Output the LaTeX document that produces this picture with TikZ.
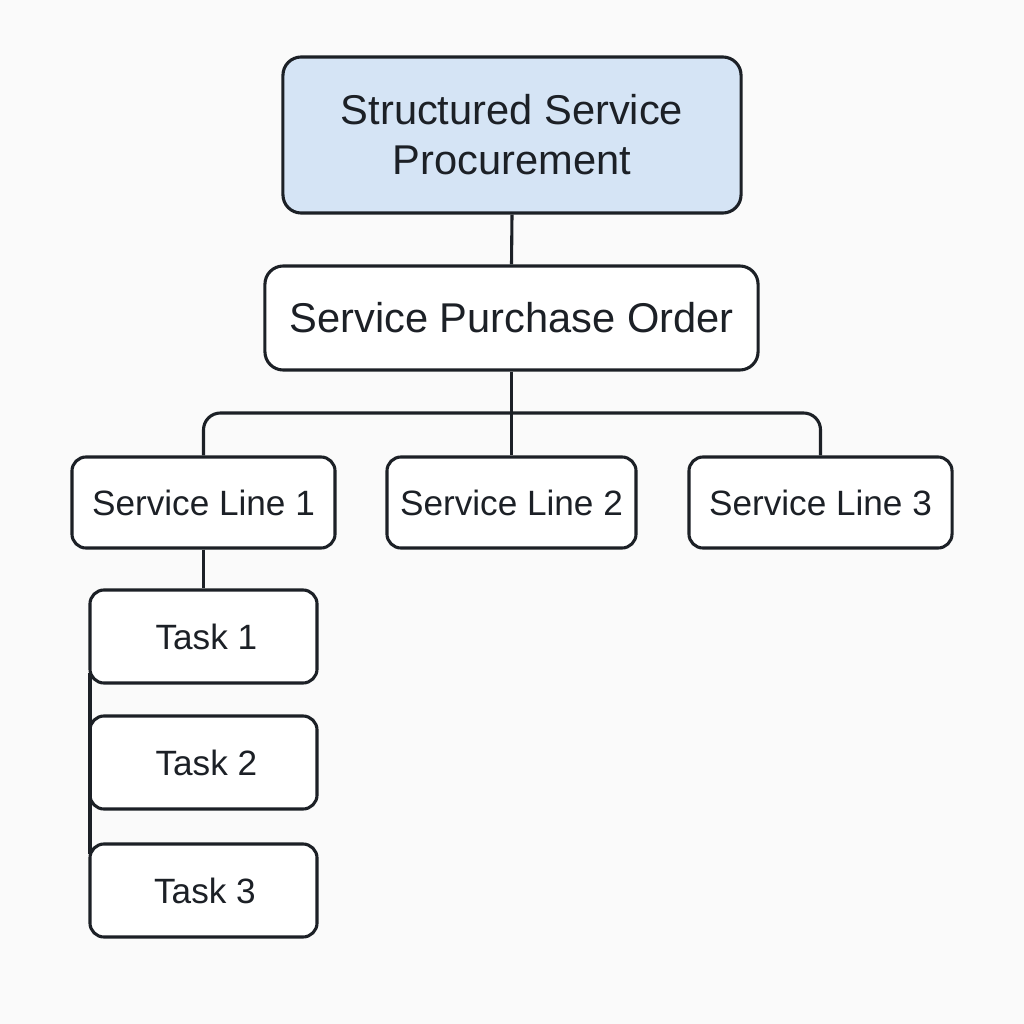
\documentclass[tikz,border=0pt]{standalone}
\usepackage{fontspec}
\setmainfont{Liberation Sans}
\usetikzlibrary{positioning}
\definecolor{bg}{HTML}{FAFAFA}
\definecolor{ink}{HTML}{1C2026}
\definecolor{topfill}{HTML}{D5E4F5}
\tikzset{
  box/.style={draw=ink, line width=2.2pt, rounded corners=13pt, fill=white, text=ink, align=center, inner sep=0pt},
  big/.style={box, font=\fontsize{29.6}{35.5}\selectfont},
  small/.style={box, font=\fontsize{25}{29}\selectfont, rounded corners=10pt},
  conn/.style={draw=ink, line width=2.2pt}
}
\begin{document}
\begin{tikzpicture}[x=0.025cm, y=-0.025cm]
\fill[bg] (0,0) rectangle (1024,1024);
\useasboundingbox (0,0) rectangle (1024,1024);
\node[big, fill=topfill, minimum width=11.45cm, minimum height=3.9cm] (top) at (512,135) {Structured Service\\Procurement};
\node[big, minimum width=12.325cm, minimum height=2.6cm] (spo) at (511.5,318) {Service Purchase Order};
\node[small, minimum width=6.575cm, minimum height=2.275cm] (sl1) at (203.5,502.5) {Service Line 1};
\node[small, minimum width=6.225cm, minimum height=2.275cm] (sl2) at (511.5,502.5) {Service Line 2};
\node[small, minimum width=6.575cm, minimum height=2.275cm] (sl3) at (820.5,502.5) {Service Line 3};
\node[small, minimum width=5.675cm, minimum height=2.325cm] (t1) at (203.5,636.5) {\hspace{4pt}Task 1};
\node[small, minimum width=5.675cm, minimum height=2.325cm] (t2) at (203.5,762.5) {\hspace{4pt}Task 2};
\node[small, minimum width=5.675cm, minimum height=2.325cm] (t3) at (203.5,890.5) {\hspace{2pt}Task 3};
\coordinate (bus) at (512,413);
\draw[conn] (top.south) -- (spo.north);
\draw[conn] (spo.south) -- (sl2.north);
\draw[conn, rounded corners=12pt] (sl1.north) -- (sl1.north |- bus) -- (sl3.north |- bus) -- (sl3.north);
\draw[conn] (sl1.south) -- (t1.north);
\draw[conn] ([xshift=1.1pt,yshift=8pt]t1.south west) -- ([xshift=1.1pt,yshift=-8pt]t3.north west);
\end{tikzpicture}
\end{document}
